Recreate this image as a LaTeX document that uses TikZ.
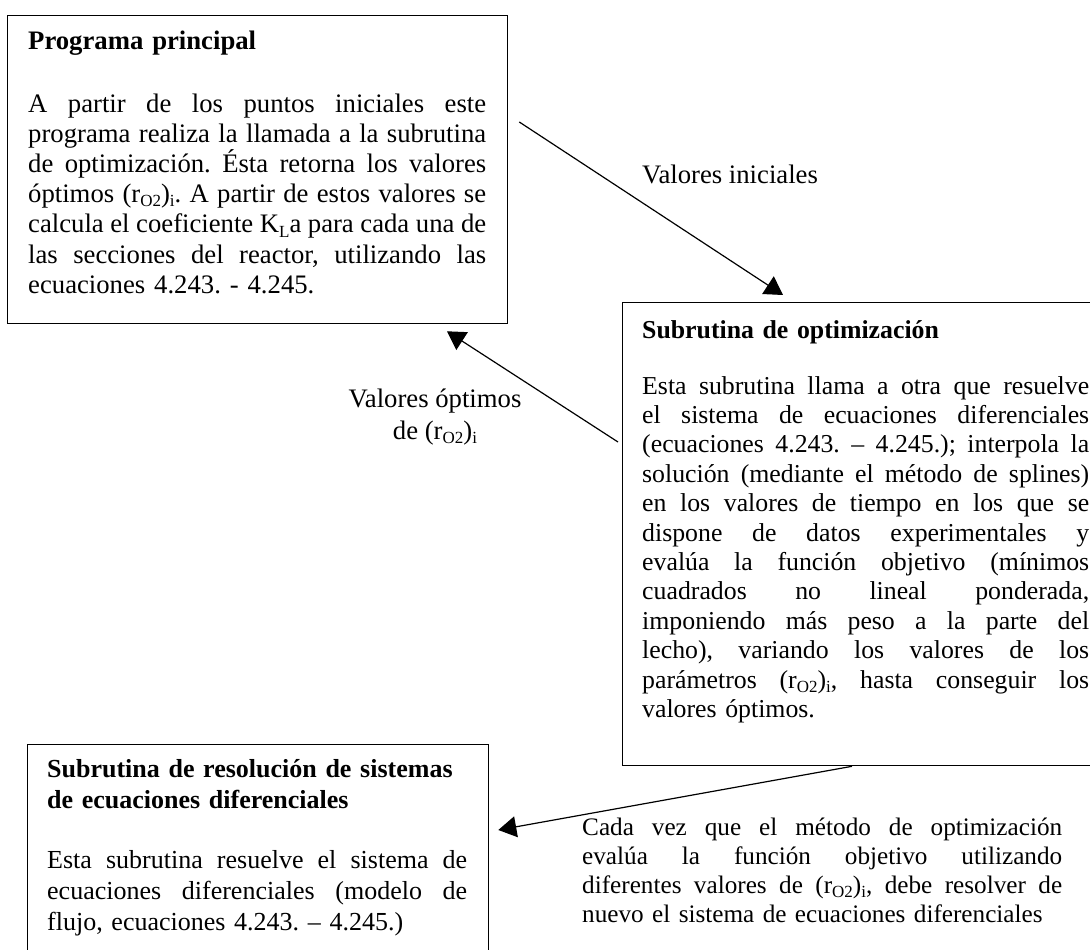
\documentclass[tikz,border=0pt]{standalone}
\usepackage{fontspec}
\setmainfont{Liberation Serif}
\usetikzlibrary{arrows.meta,calc}
\frenchspacing
\newcommand\sbs[1]{\raisebox{-0.16em}{\fontsize{17}{17}\selectfont #1}}
\newcommand\jl[1]{\hbox to\hsize{\spaceskip=0.25em plus 1fil minus 0.05em\relax #1}\par}
\newcommand\lastl[1]{\hbox{#1}\par}
\tikzset{
  boxshape/.style={draw, line width=1.3pt, inner sep=0pt, anchor=north west},
  bodytext/.style n args={3}{anchor=base west, inner sep=0pt, text width=#1,
    font={\fontsize{#2}{#3}\selectfont\frenchspacing\lineskiplimit=-50pt}},
  titletext/.style 2 args={anchor=base west, inner sep=0pt, text width=470pt,
    font={\fontsize{#1}{#2}\selectfont\bfseries\lineskiplimit=-50pt}},
  labeltext/.style={inner sep=0pt,
    font={\fontsize{26.7}{32}\selectfont\lineskiplimit=-50pt}},
  arr/.style={line width=1.2pt, -{Triangle[length=18pt,width=21pt]}},
}
\begin{document}
\begin{tikzpicture}[x=1pt,y=-1pt]
\clip (0,0) rectangle (1090,950);
\fill[white] (0,0) rectangle (1090,950);

% boxes
\node[boxshape, minimum width=500pt, minimum height=308pt] (b1) at (7,15) {};
\node[boxshape, minimum width=490pt, minimum height=463pt] (b2) at (622,302) {};
\node[boxshape, minimum width=461pt, minimum height=260pt] (b3) at (27,744) {};

% box 1 text
\node[titletext={26.7}{30}] (t1) at (28,50) {\lastl{Programa principal}};
\node[bodytext={458pt}{26.7}{30.2}] (p1) at (28,112) {%
\jl{A partir de los puntos iniciales este}
\jl{programa realiza la llamada a la subrutina}
\jl{de optimización. Ésta retorna los valores}
\jl{óptimos (r\sbs{O2})\sbs{i}. A partir de estos valores se}
\jl{calcula el coeficiente K\sbs{L}a para cada una de}
\jl{las secciones del reactor, utilizando las}
\lastl{ecuaciones 4.243. - 4.245.}};

% box 2 text
\node[titletext={25.8}{30}] (t2) at (642,338) {\lastl{Subrutina de optimización}};
\node[bodytext={447pt}{25.8}{29.4}] (p2) at (642,394) {%
\jl{Esta subrutina llama a otra que resuelve}
\jl{el sistema de ecuaciones diferenciales}
\jl{(ecuaciones 4.243. – 4.245.); interpola la}
\jl{solución (mediante el método de splines)}
\jl{en los valores de tiempo en los que se}
\jl{dispone de datos experimentales y}
\jl{evalúa la función objetivo (mínimos}
\jl{cuadrados no lineal ponderada,}
\jl{imponiendo más peso a la parte del}
\jl{lecho), variando los valores de los}
\jl{parámetros (r\sbs{O2})\sbs{i}, hasta conseguir los}
\lastl{valores óptimos.}};

% box 3 text
\node[titletext={26}{31}] (t3) at (47,777) {\lastl{Subrutina de resolución de sistemas}\lastl{de ecuaciones diferenciales}};
\node[bodytext={420pt}{26}{31}] (p3) at (47,868) {%
\jl{Esta subrutina resuelve el sistema de}
\jl{ecuaciones diferenciales (modelo de}
\lastl{flujo, ecuaciones 4.243. – 4.245.)}};

% free text bottom right
\node[bodytext={480pt}{25.2}{29}] (p4) at (582,835) {%
\jl{Cada vez que el método de optimización}
\jl{evalúa la función objetivo utilizando}
\jl{diferentes valores de (r\sbs{O2})\sbs{i}, debe resolver de}
\lastl{nuevo el sistema de ecuaciones diferenciales}};

% labels
\node[labeltext, anchor=base west] (l1) at (642,183) {Valores iniciales};
\node[labeltext, anchor=base, align=center] (l2) at (435,439) {Valores óptimos\\de (r\sbs{O2})\sbs{i}};

% connectors
\coordinate (a1s) at ($(b1.north east)+(11,107)$);
\coordinate (a1e) at ($(b2.north west)+(161,-7)$);
\coordinate (a2s) at ($(b2.north west)+(-4,140)$);
\coordinate (a2e) at ($(b1.south west)+(440,7)$);
\coordinate (a3s) at ($(b2.south west)+(230,0)$);
\coordinate (a3e) at ($(b3.north east)+(9,86)$);
\draw[arr] (a1s) -- (a1e);
\draw[arr] (a2s) -- (a2e);
\draw[arr] (a3s) -- (a3e);
\end{tikzpicture}
\end{document}
